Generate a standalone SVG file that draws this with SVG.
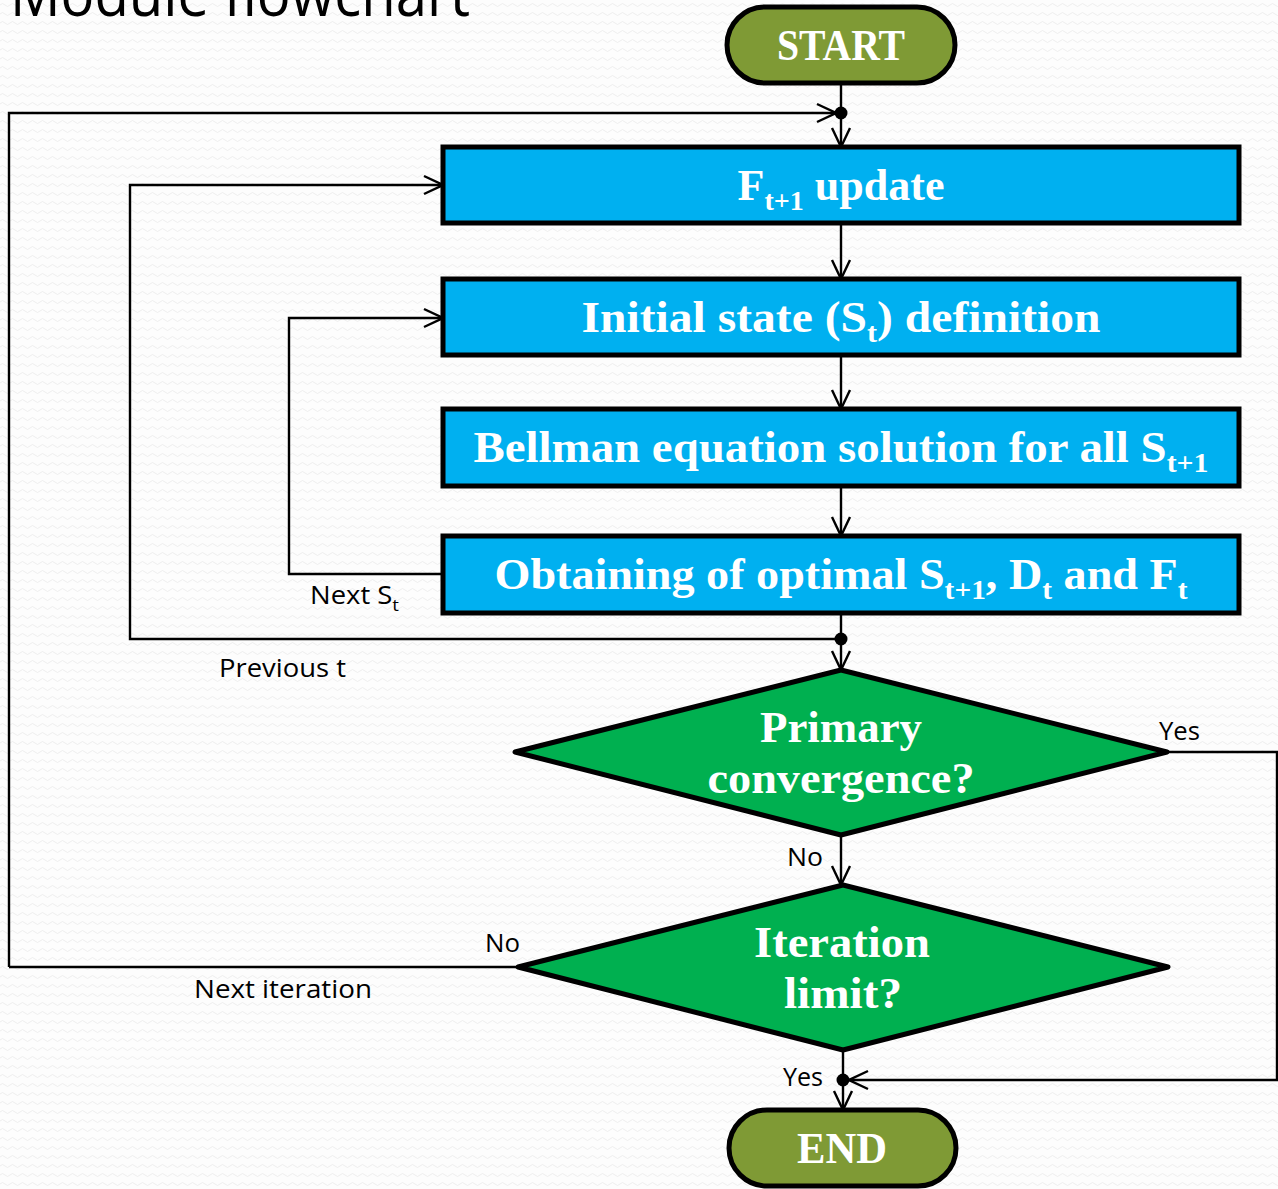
<svg xmlns="http://www.w3.org/2000/svg" width="1278" height="1189" viewBox="0 0 1278 1189">
<defs>
<pattern id="bg" width="10" height="9" patternUnits="userSpaceOnUse">
<rect width="10" height="9" fill="#fdfdfd"/>
<path d="M0 5 Q2.5 2 5 5 T10 5" fill="none" stroke="#eeeeee" stroke-width="1"/>
</pattern>
<marker id="arr" viewBox="0 0 24 24" refX="22" refY="12" markerWidth="24" markerHeight="24" markerUnits="userSpaceOnUse" orient="auto">
<polyline points="3,3 22,12 3,21" fill="none" stroke="#000" stroke-width="2.4"/>
</marker>
</defs>
<style>
.bg{fill:url(#bg)}
.term{fill:#7f9a35;stroke:#000;stroke-width:5}
.box{fill:#00b0f0;stroke:#000;stroke-width:5}
.dec{fill:#00b050;stroke:#000;stroke-width:5;stroke-linejoin:round}
.ntext{font-family:"Liberation Serif",serif;font-weight:bold;fill:#fff;font-size:44px;text-anchor:middle}
.sub{font-size:28px}
.lbl{font-family:"Open Sans","Liberation Sans",sans-serif;fill:#000;font-size:25px}
.conn{fill:none;stroke:#000;stroke-width:2.4}
.dot{fill:#000}
.title{font-family:"Open Sans","Liberation Sans",sans-serif;font-size:62px;fill:#000}
</style>
<rect class="bg" x="0" y="0" width="1278" height="1189"/>
<text class="title" x="10" y="16" textLength="460" lengthAdjust="spacingAndGlyphs">Module flowchart</text>

<g id="connectors">
<line class="conn" x1="841" y1="83" x2="841" y2="147" marker-end="url(#arr)"/>
<polyline class="conn" points="9,967 9,113 836,113" marker-end="url(#arr)"/>
<line class="conn" x1="841" y1="223" x2="841" y2="279" marker-end="url(#arr)"/>
<line class="conn" x1="841" y1="355" x2="841" y2="409" marker-end="url(#arr)"/>
<line class="conn" x1="841" y1="486" x2="841" y2="536" marker-end="url(#arr)"/>
<polyline class="conn" points="443,574 289,574 289,318 443,318" marker-end="url(#arr)"/>
<line class="conn" x1="841" y1="613" x2="841" y2="670" marker-end="url(#arr)"/>
<polyline class="conn" points="841,639 130,639 130,185 443,185" marker-end="url(#arr)"/>
<line class="conn" x1="841" y1="835" x2="841" y2="885" marker-end="url(#arr)"/>
<polyline class="conn" points="518,967 9,967"/>
<polyline class="conn" points="1167,752 1277,752 1277,1080 849,1080" marker-end="url(#arr)"/>
<line class="conn" x1="843" y1="1050" x2="843" y2="1110" marker-end="url(#arr)"/>
<circle class="dot" cx="841" cy="113" r="6.5"/>
<circle class="dot" cx="841" cy="639" r="6.5"/>
<circle class="dot" cx="843" cy="1080" r="6.5"/>
<text class="lbl" x="310" y="604" textLength="89" lengthAdjust="spacingAndGlyphs">Next S<tspan font-size="17" dy="7">t</tspan></text>
<text class="lbl" x="219" y="677" textLength="127" lengthAdjust="spacingAndGlyphs">Previous t</text>
<text class="lbl" x="1159" y="740" textLength="41" lengthAdjust="spacingAndGlyphs">Yes</text>
<text class="lbl" x="787" y="866" textLength="36" lengthAdjust="spacingAndGlyphs">No</text>
<text class="lbl" x="485" y="952" textLength="35" lengthAdjust="spacingAndGlyphs">No</text>
<text class="lbl" x="194" y="998" textLength="178" lengthAdjust="spacingAndGlyphs">Next iteration</text>
<text class="lbl" x="783" y="1086" textLength="40" lengthAdjust="spacingAndGlyphs">Yes</text>
</g>

<g id="start">
<rect class="term" x="727" y="7" width="228" height="76" rx="38"/>
<text class="ntext" x="841" y="60" textLength="128" lengthAdjust="spacingAndGlyphs">START</text>
</g>
<g id="f-update">
<rect class="box" x="443" y="147" width="796" height="76"/>
<text class="ntext" x="841" y="200" textLength="207" lengthAdjust="spacingAndGlyphs">F<tspan class="sub" dy="10">t+1</tspan><tspan dy="-10"> update</tspan></text>
</g>
<g id="initial-state">
<rect class="box" x="443" y="279" width="796" height="76"/>
<text class="ntext" x="841" y="332" textLength="519" lengthAdjust="spacingAndGlyphs">Initial state (S<tspan class="sub" dy="10">t</tspan><tspan dy="-10">) definition</tspan></text>
</g>
<g id="bellman">
<rect class="box" x="443" y="409" width="796" height="77"/>
<text class="ntext" x="841" y="462" textLength="735" lengthAdjust="spacingAndGlyphs">Bellman equation solution for all S<tspan class="sub" dy="10">t+1</tspan></text>
</g>
<g id="optimal">
<rect class="box" x="443" y="536" width="796" height="77"/>
<text class="ntext" x="841" y="589" textLength="693" lengthAdjust="spacingAndGlyphs">Obtaining of optimal S<tspan class="sub" dy="10">t+1</tspan><tspan dy="-10">, D</tspan><tspan class="sub" dy="10">t</tspan><tspan dy="-10"> and F</tspan><tspan class="sub" dy="10">t</tspan></text>
</g>
<g id="primary-convergence">
<polygon class="dec" points="841,670 1167,752 841,835 515,752"/>
<text class="ntext" x="841" y="742" textLength="162" lengthAdjust="spacingAndGlyphs">Primary</text>
<text class="ntext" x="841" y="793" textLength="267" lengthAdjust="spacingAndGlyphs">convergence?</text>
</g>
<g id="iteration-limit">
<polygon class="dec" points="843,885 1168,967 843,1050 518,967"/>
<text class="ntext" x="842" y="957" textLength="176" lengthAdjust="spacingAndGlyphs">Iteration</text>
<text class="ntext" x="843" y="1008" textLength="118" lengthAdjust="spacingAndGlyphs">limit?</text>
</g>
<g id="end">
<rect class="term" x="729" y="1110" width="227" height="76" rx="38"/>
<text class="ntext" x="842" y="1163" textLength="90" lengthAdjust="spacingAndGlyphs">END</text>
</g>
</svg>
